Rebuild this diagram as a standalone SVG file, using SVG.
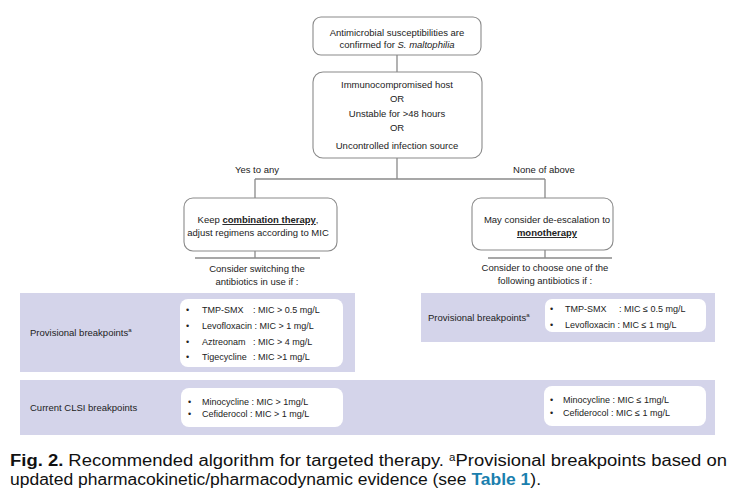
<svg xmlns="http://www.w3.org/2000/svg" width="740" height="503" viewBox="0 0 740 503">
<style>
.t{font-family:"Liberation Sans",Arial,sans-serif;font-size:9.5px;fill:#222}
.s{font-size:9px}
.m{text-anchor:middle}
.box{fill:#fff;stroke:#8a8a8a;stroke-width:1.1}
.wb{fill:#fff}
.band{fill:#d4d4ea}
.ln{stroke:#8a8a8a;stroke-width:1.3;fill:none}
.b{font-weight:bold}
.cap{font-family:"Liberation Sans",Arial,sans-serif;font-size:16px;fill:#111}
</style>
<rect width="740" height="503" fill="#fff"/>
<g id="connectors">
<path class="ln" d="M397 55V72M397 158V179M255 179H545M255 179V198M545 179V198M255 251V258M545 250V258"/>
<path class="ln" stroke-width="1.6" d="M195 258H320M488 258H612"/>
</g>
<g id="start">
<rect class="box" x="313" y="17" width="168" height="38" rx="8"/>
<text class="t m" x="397" y="36">Antimicrobial susceptibilities are</text>
<text class="t m" x="397" y="48">confirmed for <tspan font-style="italic">S. maltophilia</tspan></text>
</g>
<g id="criteria">
<rect class="box" x="313" y="72" width="169" height="86" rx="10"/>
<text class="t m" x="397" y="88">Immunocompromised host</text>
<text class="t m" x="397" y="102">OR</text>
<text class="t m" x="397" y="117">Unstable for &gt;48 hours</text>
<text class="t m" x="397" y="131">OR</text>
<text class="t m" x="397" y="149">Uncontrolled infection source</text>
</g>
<g id="labels">
<text class="t m" x="257" y="173" font-size="10">Yes to any</text>
<text class="t m" x="544" y="173" font-size="10">None of above</text>
</g>
<g id="combination">
<rect class="box" x="184" y="198" width="153" height="53" rx="9"/>
<text class="t m" x="258" y="223">Keep <tspan class="b" text-decoration="underline">combination therapy</tspan>,</text>
<text class="t m" x="258" y="236">adjust regimens according to MIC</text>
<text class="t m" x="257" y="272">Consider switching the</text>
<text class="t m" x="257" y="285">antibiotics in use if :</text>
</g>
<g id="mono">
<rect class="box" x="472" y="198" width="141" height="52" rx="9"/>
<text class="t m" x="547" y="223">May consider de-escalation to</text>
<text class="t m b" x="547" y="236" text-decoration="underline">monotherapy</text>
<text class="t m" x="545" y="271">Consider to choose one of the</text>
<text class="t m" x="545" y="284">following antibiotics if :</text>
</g>
<g id="prov-left">
<rect class="band" x="20" y="293" width="335" height="79"/>
<text class="t" x="30" y="336">Provisional breakpoints<tspan font-size="6" dy="-4">a</tspan></text>
<rect class="wb" x="180" y="299" width="163" height="68" rx="8"/>
<g class="t s">
<text x="186" y="313">•</text><text x="202" y="313">TMP-SMX</text><text x="253" y="313">: MIC &gt; 0.5 mg/L</text>
<text x="186" y="329">•</text><text x="202" y="329">Levofloxacin : MIC &gt; 1 mg/L</text>
<text x="186" y="345">•</text><text x="202" y="345">Aztreonam</text><text x="253" y="345">: MIC &gt; 4 mg/L</text>
<text x="186" y="360">•</text><text x="202" y="360">Tigecycline</text><text x="253" y="360">: MIC &gt;1 mg/L</text>
</g>
</g>
<g id="prov-right">
<rect class="band" x="421" y="293" width="294" height="49"/>
<text class="t" x="428" y="321">Provisional breakpoints<tspan font-size="6" dy="-4">a</tspan></text>
<rect class="wb" x="545" y="299" width="161" height="33" rx="7"/>
<g class="t s">
<text x="550" y="312">•</text><text x="565" y="312">TMP-SMX</text><text x="619" y="312">: MIC ≤ 0.5 mg/L</text>
<text x="550" y="328">•</text><text x="565" y="328">Levofloxacin : MIC ≤  1 mg/L</text>
</g>
</g>
<g id="clsi">
<rect class="band" x="20" y="380" width="695" height="55"/>
<text class="t" x="30" y="411">Current CLSI breakpoints</text>
<rect class="wb" x="181" y="388" width="162" height="39" rx="8"/>
<rect class="wb" x="544" y="386" width="162" height="40" rx="8"/>
<g class="t s">
<text x="188" y="405">•</text><text x="202" y="405">Minocycline : MIC &gt; 1mg/L</text>
<text x="188" y="417">•</text><text x="202" y="417">Cefiderocol  : MIC &gt; 1 mg/L</text>
<text x="550" y="403">•</text><text x="563" y="403">Minocycline : MIC ≤ 1mg/L</text>
<text x="550" y="416">•</text><text x="563" y="416">Cefiderocol  : MIC ≤ 1 mg/L</text>
</g>
</g>
<g id="caption">
<text class="cap" x="10" y="466" textLength="717" lengthAdjust="spacingAndGlyphs"><tspan font-weight="bold">Fig. 2.</tspan> Recommended algorithm for targeted therapy. <tspan font-size="10" dy="-5">a</tspan><tspan dy="5">Provisional breakpoints based on</tspan></text>
<text class="cap" x="10" y="485" textLength="531" lengthAdjust="spacingAndGlyphs">updated pharmacokinetic/pharmacodynamic evidence (see <tspan font-weight="bold" fill="#1b7fae">Table 1</tspan>).</text>
</g>
</svg>
